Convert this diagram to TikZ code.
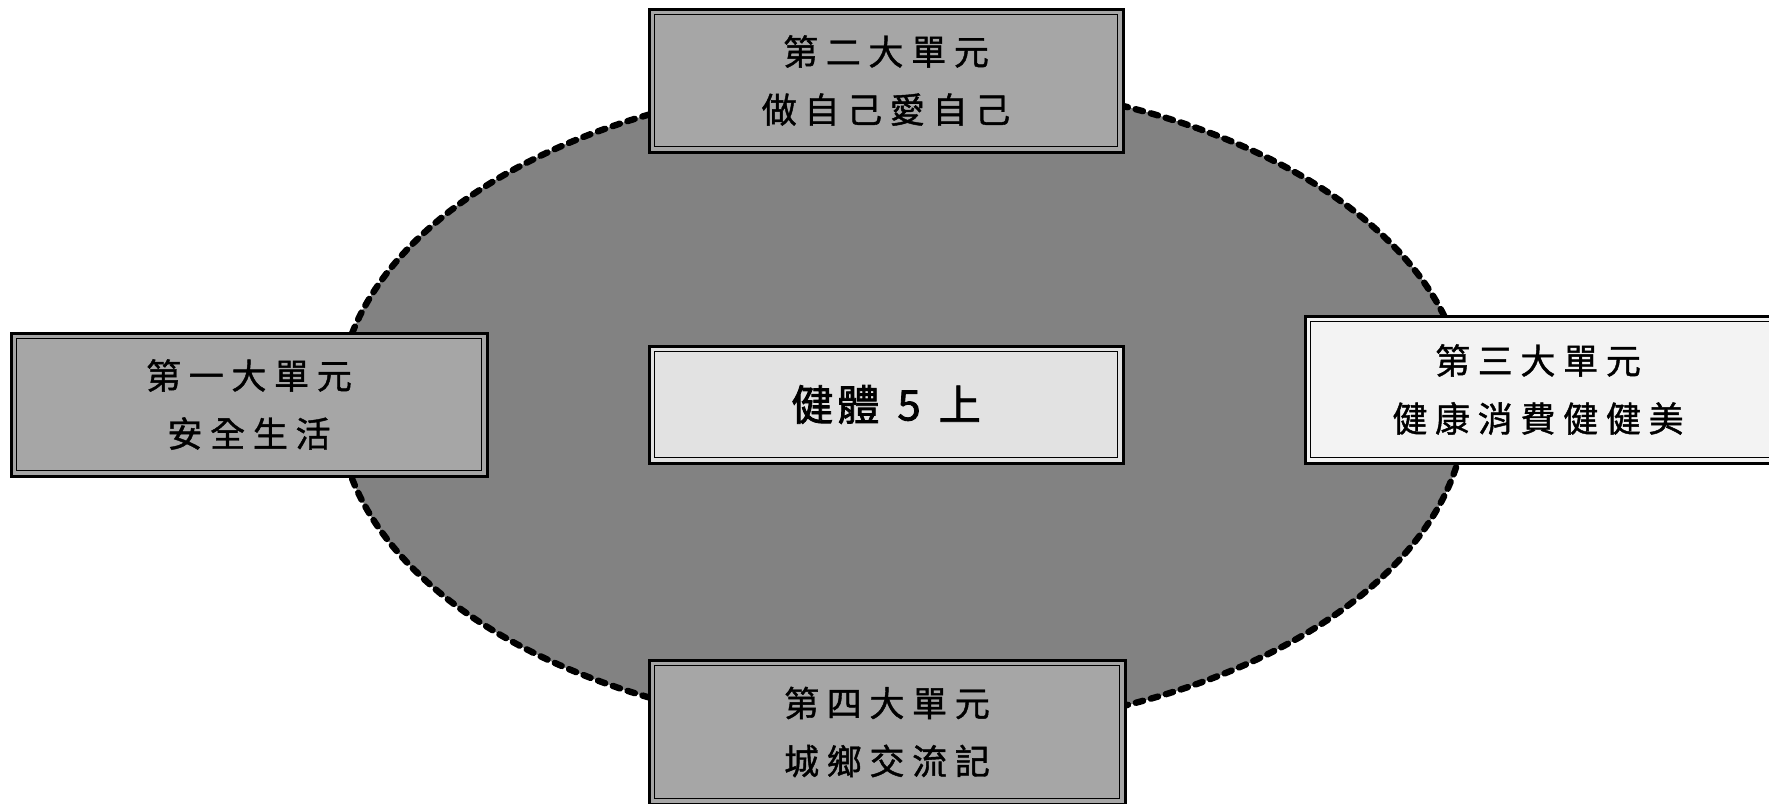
\documentclass[tikz,border=0pt]{standalone}
\usepackage{fontspec}
\usetikzlibrary{shapes.geometric}
\newfontfamily\cjk[LetterSpace=22,FakeBold=1.2]{Noto Sans CJK TC}
\newfontfamily\cjkc[LetterSpace=10,FakeBold=2]{Noto Sans CJK TC}
\definecolor{ellgray}{HTML}{828282}
\definecolor{midgray}{HTML}{A6A6A6}
\definecolor{lightgray2}{HTML}{E2E2E2}
\definecolor{palegray}{HTML}{F3F3F3}
\tikzset{
  unitbox/.style={draw=black, line width=1.5pt, inner sep=0pt, align=center,
    font=\cjk\fontsize{17.5}{29}\selectfont,
    path picture={\draw[line width=0.6pt]
      ([shift={(2.6pt,-2.6pt)}]path picture bounding box.north west) rectangle
      ([shift={(-2.6pt,2.6pt)}]path picture bounding box.south east);}},
  ring/.style={draw=black, line width=3.2pt, line cap=round, dash pattern=on 3.8pt off 4pt, fill=ellgray}
}
\begin{document}
\begin{tikzpicture}[x=0.5pt,y=-0.5pt]
\useasboundingbox (0,0) rectangle (1769,804);
\fill[white] (0,0) rectangle (1769,804);
\node[ring, ellipse, minimum width=564pt, minimum height=326pt, inner sep=0pt] (ring) at (902,406) {};
\node[unitbox, fill=midgray, minimum width=237pt, minimum height=71.5pt] (u2) at (886,80.5) {第二大單元\\做自己愛自己};
\node[unitbox, fill=midgray, minimum width=238pt, minimum height=71.5pt] (u1) at (249,404.5) {第一大單元\\安全生活};
\node[unitbox, fill=palegray, minimum width=245pt, minimum height=73.5pt] (u3) at (1550,389.5) {\hspace*{-12pt}第三大單元\\\hspace*{-12pt}健康消費健健美};
\node[unitbox, fill=midgray, minimum width=238pt, minimum height=72pt] (u4) at (887,732) {第四大單元\\城鄉交流記};
\node[unitbox, fill=lightgray2, minimum width=237pt, minimum height=58.5pt, font=\cjkc\fontsize{21}{24}\selectfont] (core) at (886,404.5) {健體\hspace{9pt}5\hspace{9pt}上};
\end{tikzpicture}
\end{document}
